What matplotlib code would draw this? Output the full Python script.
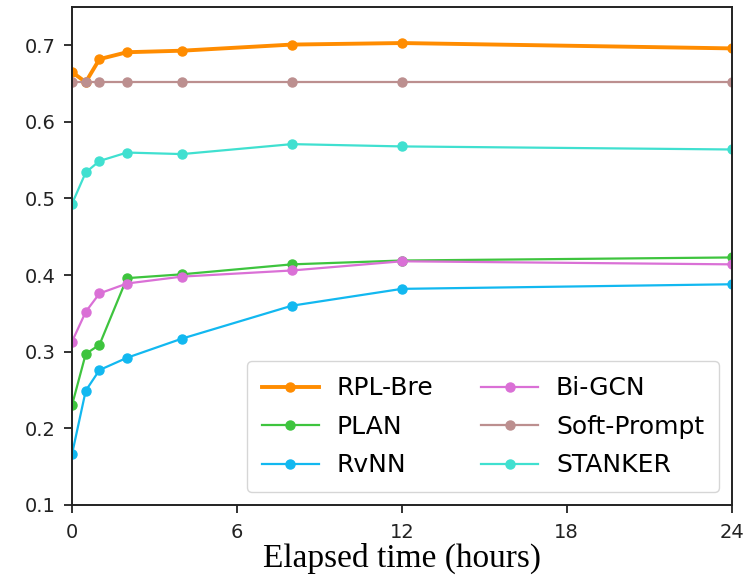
import matplotlib
matplotlib.use("Agg")
import matplotlib.pyplot as plt

hours = [0, 0.5, 1, 2, 4, 8, 12, 24]

rpl_bre = [0.665, 0.652, 0.682, 0.691, 0.693, 0.701, 0.703, 0.696]
plan = [0.230, 0.297, 0.309, 0.396, 0.401, 0.414, 0.419, 0.423]
rvnn = [0.166, 0.249, 0.276, 0.292, 0.317, 0.360, 0.382, 0.388]
bi_gcn = [0.313, 0.352, 0.376, 0.389, 0.398, 0.406, 0.418, 0.414]
soft_prompt = [0.652, 0.652, 0.652, 0.652, 0.652, 0.652, 0.652, 0.652]
stanker = [0.493, 0.534, 0.549, 0.560, 0.558, 0.571, 0.568, 0.564]

fig = plt.figure(figsize=(7.53, 5.87), dpi=100)
ax = fig.add_axes([0.0956, 0.140, 0.876, 0.848])

ax.plot(hours, rpl_bre, color='#ff8c00', marker='o', markersize=6.5, linewidth=2.8, label='RPL-Bre')
ax.plot(hours, plan, color='#3ec43e', marker='o', markersize=6.5, linewidth=1.6, label='PLAN')
ax.plot(hours, rvnn, color='#12b8f0', marker='o', markersize=6.5, linewidth=1.6, label='RvNN')
ax.plot(hours, bi_gcn, color='#da70d6', marker='o', markersize=6.5, linewidth=1.6, label='Bi-GCN')
ax.plot(hours, soft_prompt, color='#bc8f8f', marker='o', markersize=6.5, linewidth=1.6, label='Soft-Prompt')
ax.plot(hours, stanker, color='#40e0d0', marker='o', markersize=6.5, linewidth=1.6, label='STANKER')

ax.set_xlim(0, 24)
ax.set_ylim(0.1, 0.75)
ax.set_xticks([0, 6, 12, 18, 24])
ax.set_yticks([0.1, 0.2, 0.3, 0.4, 0.5, 0.6, 0.7])
ax.tick_params(labelsize=14, length=6, width=1.3, colors='#222222')
ax.tick_params(axis='x', pad=7)
ax.tick_params(axis='y', pad=6)
for s in ax.spines.values():
    s.set_linewidth(1.4)
    s.set_color('#222222')

ax.set_xlabel('Elapsed time (hours)', family='Liberation Serif', fontsize=24, labelpad=1)

ax.legend(loc='lower right', ncol=2, fontsize=18, borderaxespad=0.5, borderpad=0.6,
          handlelength=2.3, handletextpad=0.7, columnspacing=1.9, labelspacing=0.58)

fig.savefig('out.png', dpi=100)
